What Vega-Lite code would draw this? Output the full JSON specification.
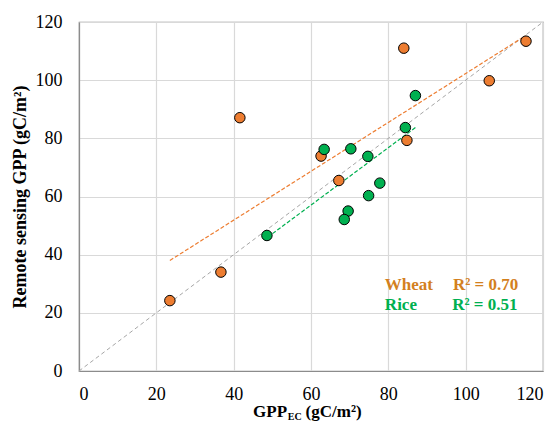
{
  "$schema": "https://vega.github.io/schema/vega-lite/v6.json",
  "width": 464,
  "height": 349,
  "autosize": "none",
  "padding": {"left": 79, "top": 22, "right": 17, "bottom": 58},
  "background": "white",
  "config": {
    "view": {"stroke": "#8C8C8C", "strokeWidth": 1.2},
    "font": "Liberation Serif",
    "axis": {
      "grid": true, "gridColor": "#D9D9D9", "gridWidth": 1.2,
      "ticks": false, "domain": true, "domainColor": "#8C8C8C", "domainWidth": 1.2,
      "labelFontSize": 18, "labelColor": "#000000",
      "titleFont": "Liberation Serif", "titleFontSize": 18, "titleFontWeight": "bold", "titleColor": "#000000"
    }
  },
  "datasets": {
    "points": [
      {"crop": "Wheat", "ec": 23.5, "rs": 24.2},
      {"crop": "Wheat", "ec": 36.7, "rs": 34.0},
      {"crop": "Wheat", "ec": 41.6, "rs": 87.1},
      {"crop": "Wheat", "ec": 62.6, "rs": 73.9},
      {"crop": "Wheat", "ec": 67.2, "rs": 65.5},
      {"crop": "Wheat", "ec": 84.0, "rs": 111.0},
      {"crop": "Wheat", "ec": 84.8, "rs": 79.3},
      {"crop": "Wheat", "ec": 106.1, "rs": 99.8},
      {"crop": "Wheat", "ec": 115.6, "rs": 113.4},
      {"crop": "Rice", "ec": 48.6, "rs": 46.6},
      {"crop": "Rice", "ec": 63.4, "rs": 76.2},
      {"crop": "Rice", "ec": 70.3, "rs": 76.4},
      {"crop": "Rice", "ec": 74.7, "rs": 73.8},
      {"crop": "Rice", "ec": 84.4, "rs": 83.7},
      {"crop": "Rice", "ec": 87.0, "rs": 94.7},
      {"crop": "Rice", "ec": 77.8, "rs": 64.6},
      {"crop": "Rice", "ec": 74.9, "rs": 60.3},
      {"crop": "Rice", "ec": 69.6, "rs": 55.0},
      {"crop": "Rice", "ec": 68.6, "rs": 52.1}
    ],
    "trends": [
      {"crop": "Wheat", "ec": 23.5, "rs": 38.0},
      {"crop": "Wheat", "ec": 115.5, "rs": 115.3},
      {"crop": "Rice", "ec": 48.8, "rs": 46.0},
      {"crop": "Rice", "ec": 87.0, "rs": 83.7}
    ],
    "oneToOne": [
      {"ec": 0, "rs": 0},
      {"ec": 119.5, "rs": 119.5}
    ],
    "one": [{}]
  },
  "layer": [
    {
      "data": {"name": "oneToOne"},
      "mark": {"type": "line", "color": "#A6A6A6", "strokeWidth": 1, "strokeDash": [4, 3]},
      "encoding": {
        "x": {"field": "ec", "type": "quantitative",
              "scale": {"domain": [0, 120], "nice": false},
              "axis": {"values": [0, 20, 40, 60, 80, 100, 120], "title": null, "labelPadding": 14,
                       "labelFont": "Times New Roman", "labelFontSize": 18}},
        "y": {"field": "rs", "type": "quantitative",
              "scale": {"domain": [0, 120], "nice": false},
              "axis": {"values": [0, 20, 40, 60, 80, 100, 120], "title": "Remote sensing GPP (gC/m²)", "labelPadding": 17, "titlePadding": 6,
                       "labelFont": "serif", "labelFontSize": 18}}
      }
    },
    {
      "data": {"name": "trends"},
      "mark": {"type": "line", "strokeWidth": 1.2, "strokeDash": [4, 2]},
      "encoding": {
        "x": {"field": "ec", "type": "quantitative"},
        "y": {"field": "rs", "type": "quantitative"},
        "detail": {"field": "crop"},
        "color": {"field": "crop", "type": "nominal",
                  "scale": {"domain": ["Wheat", "Rice"], "range": ["#ED7D31", "#00B050"]}, "legend": null}
      }
    },
    {
      "data": {"name": "points"},
      "mark": {"type": "circle", "size": 110, "opacity": 1, "stroke": "#000000", "strokeWidth": 1},
      "encoding": {
        "x": {"field": "ec", "type": "quantitative"},
        "y": {"field": "rs", "type": "quantitative"},
        "color": {"field": "crop", "type": "nominal",
                  "scale": {"domain": ["Wheat", "Rice"], "range": ["#ED7D31", "#00B050"]}, "legend": null}
      }
    },
    {
      "data": {"name": "one"},
      "mark": {"type": "text", "text": "Wheat", "align": "left", "baseline": "alphabetic", "font": "Liberation Serif", "fontSize": 17, "fontWeight": "bold", "color": "#D3801E"},
      "encoding": {"x": {"datum": 79.1}, "y": {"datum": 27.9}}
    },
    {
      "data": {"name": "one"},
      "mark": {"type": "text", "text": "R² = 0.70", "align": "left", "baseline": "alphabetic", "font": "Liberation Serif", "fontSize": 17, "fontWeight": "bold", "color": "#D3801E"},
      "encoding": {"x": {"datum": 96.7}, "y": {"datum": 27.9}}
    },
    {
      "data": {"name": "one"},
      "mark": {"type": "text", "text": "Rice", "align": "left", "baseline": "alphabetic", "font": "Liberation Serif", "fontSize": 17, "fontWeight": "bold", "color": "#00B050"},
      "encoding": {"x": {"datum": 79.1}, "y": {"datum": 21.0}}
    },
    {
      "data": {"name": "one"},
      "mark": {"type": "text", "text": "R² = 0.51", "align": "left", "baseline": "alphabetic", "font": "Liberation Serif", "fontSize": 17, "fontWeight": "bold", "color": "#00B050"},
      "encoding": {"x": {"datum": 96.5}, "y": {"datum": 21.0}}
    },
    {
      "data": {"name": "one"},
      "mark": {"type": "text", "text": "GPP", "align": "right", "baseline": "alphabetic", "font": "Liberation Serif", "fontSize": 17, "fontWeight": "bold", "color": "#000000"},
      "encoding": {"x": {"datum": 53.8}, "y": {"datum": -15.7}}
    },
    {
      "data": {"name": "one"},
      "mark": {"type": "text", "text": "EC", "align": "left", "baseline": "alphabetic", "font": "Liberation Serif", "fontSize": 10, "fontWeight": "bold", "color": "#000000"},
      "encoding": {"x": {"datum": 54.0}, "y": {"datum": -16.8}}
    },
    {
      "data": {"name": "one"},
      "mark": {"type": "text", "text": "(gC/m²)", "align": "left", "baseline": "alphabetic", "font": "Liberation Serif", "fontSize": 17, "fontWeight": "bold", "color": "#000000"},
      "encoding": {"x": {"datum": 58.6}, "y": {"datum": -15.7}}
    }
  ]
}
